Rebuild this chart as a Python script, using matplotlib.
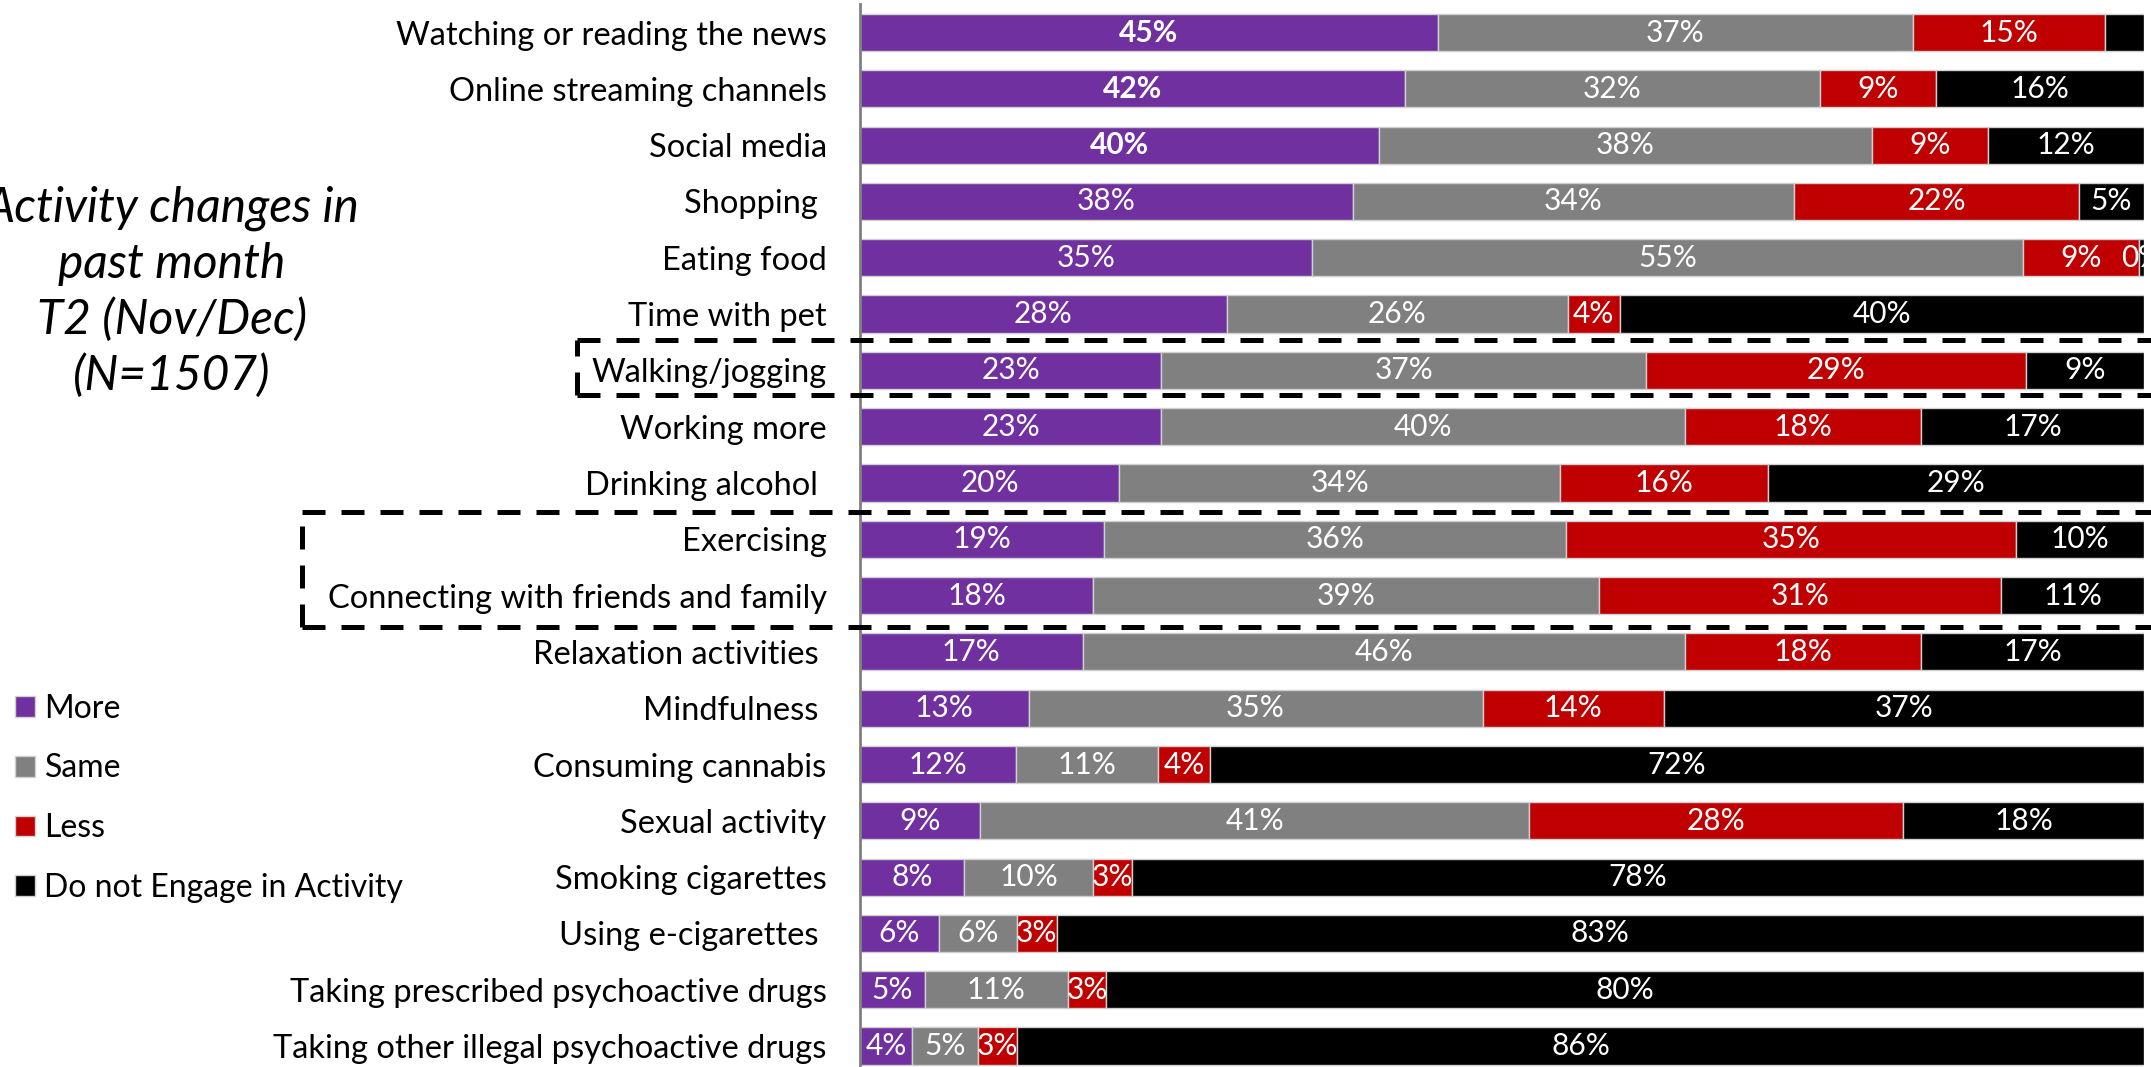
import matplotlib.pyplot as plt
from matplotlib.lines import Line2D
import matplotlib.transforms as mtransforms
import numpy as np

activities = [
    "Watching or reading the news",
    "Online streaming channels",
    "Social media",
    "Shopping ",
    "Eating food",
    "Time with pet",
    "Walking/jogging",
    "Working more",
    "Drinking alcohol ",
    "Exercising",
    "Connecting with friends and family",
    "Relaxation activities ",
    "Mindfulness ",
    "Consuming cannabis",
    "Sexual activity",
    "Smoking cigarettes",
    "Using e-cigarettes ",
    "Taking prescribed psychoactive drugs",
    "Taking other illegal psychoactive drugs",
]
more = [45, 42, 40, 38, 35, 28, 23, 23, 20, 19, 18, 17, 13, 12, 9, 8, 6, 5, 4]
same = [37, 32, 38, 34, 55, 26, 37, 40, 34, 36, 39, 46, 35, 11, 41, 10, 6, 11, 5]
less = [15, 9, 9, 22, 9, 4, 29, 18, 16, 35, 31, 18, 14, 4, 28, 3, 3, 3, 3]
not_engaged = [3, 16, 12, 5, 0.4, 40, 9, 17, 29, 10, 11, 17, 37, 72, 18, 78, 83, 80, 86]

series_names = ["More", "Same", "Less", "Do not Engage in Activity"]
colors = ["#7030A0", "#808080", "#C00000", "#000000"]

plt.rcParams['font.family'] = ['Lato', 'DejaVu Sans']

W, H = 2151, 1067
fig = plt.figure(figsize=(W / 100, H / 100), dpi=100)
ax = fig.add_axes([860 / W, -7.2 / H, 1284 / W, 1069.8 / H])

data = np.array([more, same, less, not_engaged], dtype=float)
shares = data / data.sum(axis=0)
y = np.arange(len(activities))

left = np.zeros(len(activities))
containers = []
for i, (name, col) in enumerate(zip(series_names, colors)):
    bars = ax.barh(y, shares[i], left=left, height=0.66, color=col,
                   edgecolor="#D0D0D0", linewidth=1.0, label=name)
    containers.append(bars)
    for j in range(len(activities)):
        # the tiny black slice on the first row carries no label
        if i == 3 and j == 0:
            continue
        weight = "bold" if (i == 0 and j < 3) else "normal"
        ax.text(left[j] + shares[i][j] / 2, j, f"{data[i][j]:.0f}%",
                ha="center", va="center", color="white", fontsize=21.5,
                fontweight=weight, clip_on=False)
    left += shares[i]

ax.set_xlim(0, 1)
ax.set_ylim(len(activities) - 0.5, -0.5)
ax.set_yticks(y)
ax.set_yticklabels(activities, fontsize=23.5)
ax.tick_params(axis="y", length=0, pad=24)
ax.set_xticks([])
for side in ["top", "right", "bottom"]:
    ax.spines[side].set_visible(False)
ax.spines["left"].set_color("#808080")
ax.spines["left"].set_linewidth(2)
ax.spines["left"].set_zorder(5)

fig.text(172 / W, 1 - 292 / H,
         "Activity changes in\npast month\nT2 (Nov/Dec)\n(N=1507)",
         ha="center", va="center", fontsize=34.5, style="italic",
         linespacing=1.3)

fig.legend(handles=containers, labels=series_names, loc="upper left",
           bbox_to_anchor=(2 / W, 1 - 681 / H), frameon=False, fontsize=23,
           handlelength=0.63, handleheight=0.63, handletextpad=0.3,
           labelspacing=0.93, borderaxespad=0)

# dashed call-out boxes around the highlighted rows
trans = mtransforms.blended_transform_factory(fig.transFigure, ax.transData)
dash = dict(transform=trans, color="black", linewidth=3.6,
            linestyle=(0, (4.6, 3.2)), clip_on=False, zorder=10)
for x0, top, bottom in [(577, 5.46, 6.44), (302, 8.52, 10.56)]:
    fig.add_artist(Line2D([x0 / W, 1.0], [top, top], **dash))
    fig.add_artist(Line2D([x0 / W, 1.0], [bottom, bottom], **dash))
    fig.add_artist(Line2D([x0 / W, x0 / W], [bottom, top], **dash))

fig.savefig("out.png", dpi=100)
